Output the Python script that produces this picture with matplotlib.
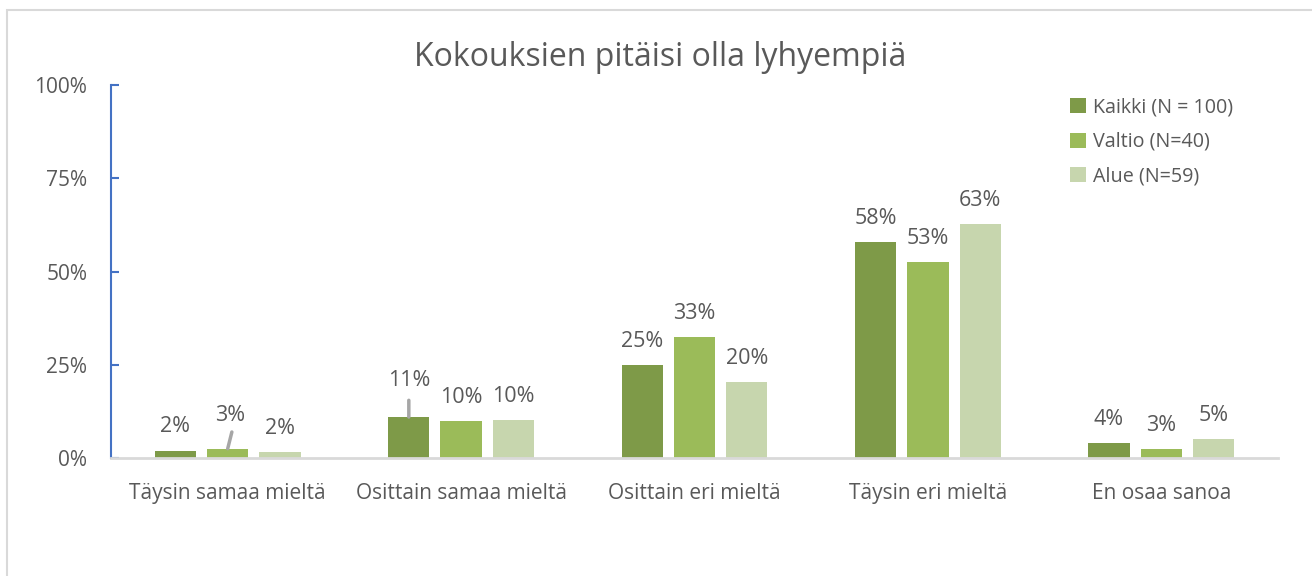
import matplotlib
matplotlib.use("Agg")
import matplotlib.pyplot as plt
import numpy as np
from matplotlib.patches import Rectangle

categories = ["Täysin samaa mieltä", "Osittain samaa mieltä", "Osittain eri mieltä",
              "Täysin eri mieltä", "En osaa sanoa"]
series_names = ["Kaikki (N = 100)", "Valtio (N=40)", "Alue (N=59)"]
kaikki = [0.02, 0.11, 0.25, 0.58, 0.04]
valtio = [0.025, 0.10, 0.325, 0.525, 0.025]
alue = [0.017, 0.102, 0.203, 0.627, 0.051]
labels_kaikki = ["2%", "11%", "25%", "58%", "4%"]
labels_valtio = ["3%", "10%", "33%", "53%", "3%"]
labels_alue = ["2%", "10%", "20%", "63%", "5%"]
yticks = [0, 0.25, 0.5, 0.75, 1.0]
ytick_labels = ["0%", "25%", "50%", "75%", "100%"]
title = "Kokouksien pitäisi olla lyhyempiä"

colors = ["#7E9A48", "#9BBB59", "#C7D6AE"]
text_color = "#595959"
font = ["Open Sans", "DejaVu Sans"]
plt.rcParams["font.family"] = font

fig = plt.figure(figsize=(13.12, 5.76), dpi=100)
W, H = 1312, 576
L, R, B, T = 111, 1278, 458, 85
ax = fig.add_axes([L / W, 1 - B / H, (R - L) / W, (B - T) / H])

# chart border
fig.patches.append(Rectangle((7 / W, -0.1), 1.2, 1 - 10 / H + 0.1, transform=fig.transFigure,
                             fill=False, edgecolor="#D9D9D9", linewidth=1.5))

x = np.arange(len(categories))
width = 0.177
step = 0.224
all_series = [kaikki, valtio, alue]
all_labels = [labels_kaikki, labels_valtio, labels_alue]
# extra label lift (points) and x shift for labels with leader lines
extra = {(1, 0): 9, (0, 1): 7}
xshift = {(0, 1): 2}
leaders = {(1, 0), (0, 1)}

for i, (vals, labs) in enumerate(zip(all_series, all_labels)):
    pos = x + (i - 1) * step
    ax.bar(pos, vals, width=width, color=colors[i], label=series_names[i], zorder=2)
    for j, (p, v, lab) in enumerate(zip(pos, vals, labs)):
        off = 17 + extra.get((j, i), 0)
        dx = xshift.get((j, i), 0)
        ax.annotate(lab, (p, v), xytext=(dx, off), textcoords="offset points",
                    ha="center", va="center", fontsize=15.5, color=text_color)
        if (j, i) in leaders:
            ax.annotate("", xy=(p, v), xytext=(dx * 1.5, 12), textcoords="offset points",
                        arrowprops=dict(arrowstyle="-", color="#A6A6A6", lw=2.5,
                                        shrinkA=0, shrinkB=0))

ax.set_xlim(-0.5, len(categories) - 0.5)
ax.set_ylim(0, 1.0)
ax.set_yticks(yticks)
ax.set_yticklabels(ytick_labels, fontsize=15, color=text_color)
ax.set_xticks(x)
ax.set_xticklabels(categories, fontsize=15, color=text_color)
ax.tick_params(axis="x", length=0, pad=18)
ax.tick_params(axis="y", direction="in", length=5.5, width=1.5, color="#4472C4", pad=17)
for s in ["top", "right"]:
    ax.spines[s].set_visible(False)
ax.spines["left"].set_color("#4472C4")
ax.spines["left"].set_linewidth(1.5)
ax.spines["bottom"].set_color("#D9D9D9")
ax.spines["bottom"].set_linewidth(2)
ax.spines["bottom"].set_zorder(3)

fig.text(660 / W, 1 - 58 / H, title, ha="center", va="center", fontsize=23, color=text_color)

leg = ax.legend(loc="upper left", bbox_to_anchor=((1052 - L) / (R - L), 1.015),
                frameon=False, fontsize=14.2, handlelength=0.8, handleheight=0.8,
                handletextpad=0.4, labelspacing=0.75)
for t in leg.get_texts():
    t.set_color(text_color)

fig.savefig("out.png", dpi=100)
